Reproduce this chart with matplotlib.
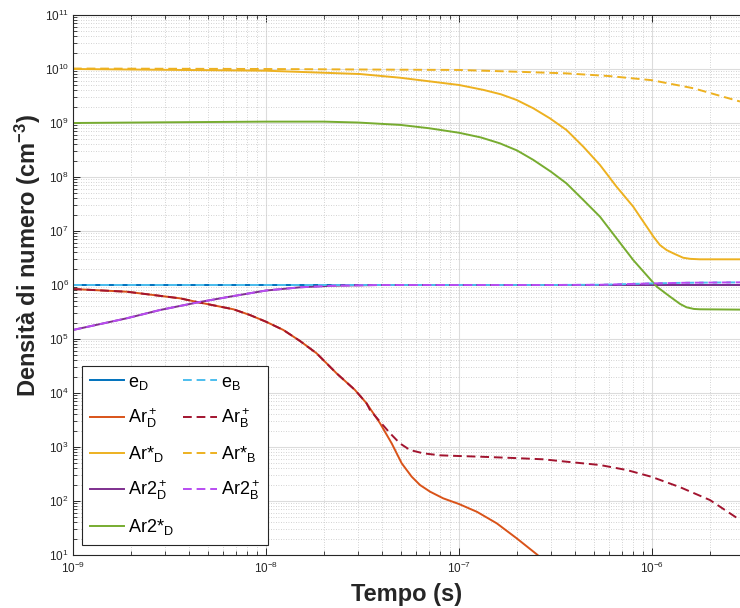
import matplotlib

matplotlib.use("Agg")
import matplotlib.pyplot as plt
from matplotlib.ticker import LogLocator, NullFormatter

# Time axis (s) and densities (cm^-3)
T_START = 1e-9
T_END = 2.86e-6

# e (drift / boltzmann)
e_D_t = [1e-9, 2.86e-6]
e_D_n = [1e6, 1e6]
e_B_t = [1e-9, 3e-7, 5.4e-7, 1e-6, 1.5e-6, 2.86e-6]
e_B_n = [1e6, 1e6, 1.01e6, 1.07e6, 1.1e6, 1.12e6]

# Ar+
ArP_D_t = [1e-9, 1.9e-9, 3.58e-9, 4.46e-9, 6.78e-9, 8.26e-9, 1.0e-8, 1.23e-8,
           1.5e-8, 1.83e-8, 2.32e-8, 2.89e-8, 3.32e-8, 3.9e-8, 4.48e-8, 5.05e-8,
           5.69e-8, 6.28e-8, 7.08e-8, 8.29e-8, 1.0e-7, 1.24e-7, 1.57e-7,
           1.99e-7, 2.53e-7, 2.96e-7]
ArP_D_n = [8.43e5, 7.51e5, 5.67e5, 4.79e5, 3.55e5, 2.78e5, 2.09e5, 1.47e5,
           9.2e4, 5.43e4, 2.32e4, 1.14e4, 6.45e3, 2.75e3, 1.17e3, 499,
           282, 198, 149, 112, 88, 63, 38.6,
           20.4, 10.3, 6.3]
ArP_B_t = [1e-9, 1.9e-9, 3.58e-9, 4.46e-9, 6.78e-9, 8.26e-9, 1.0e-8, 1.23e-8,
           1.5e-8, 1.83e-8, 2.32e-8, 2.89e-8, 3.32e-8, 3.46e-8, 3.9e-8, 4.4e-8,
           4.94e-8, 5.57e-8, 6.53e-8, 7.97e-8, 1.0e-7, 1.29e-7, 1.91e-7,
           2.73e-7, 3.61e-7, 5.38e-7, 7.4e-7, 9.9e-7, 1.4e-6, 2.0e-6, 2.86e-6]
ArP_B_n = [8.43e5, 7.51e5, 5.67e5, 4.79e5, 3.55e5, 2.78e5, 2.09e5, 1.47e5,
           9.2e4, 5.43e4, 2.32e4, 1.14e4, 6.45e3, 4.84e3, 2.94e3, 1.79e3,
           1.17e3, 880, 764, 701, 681, 661, 626,
           592, 534, 464, 375, 282, 180, 104, 44.5]

# Ar*
ArS_D_t = [1e-9, 1e-8, 3.07e-8, 4.94e-8, 1e-7, 1.34e-7, 1.65e-7, 1.99e-7,
           2.43e-7, 2.96e-7, 3.61e-7, 4.41e-7, 5.38e-7, 6.56e-7, 8.0e-7,
           8.67e-7, 1.02e-6, 1.1e-6, 1.19e-6, 1.29e-6, 1.45e-6, 1.58e-6,
           1.77e-6, 2.86e-6]
ArS_D_n = [1e10, 9.3e9, 8.07e9, 6.9e9, 5.06e9, 4.1e9, 3.4e9, 2.67e9,
           1.87e9, 1.22e9, 7.4e8, 3.64e8, 1.67e8, 6.6e7, 2.82e7,
           1.84e7, 7.8e6, 5.5e6, 4.45e6, 3.86e6, 3.2e6, 3.05e6,
           2.99e6, 2.99e6]
ArS_B_t = [1e-9, 1e-8, 5e-8, 1e-7, 2e-7, 3.6e-7, 6e-7, 1e-6, 1.64e-6, 2.86e-6]
ArS_B_n = [1.02e10, 1.0e10, 9.7e9, 9.6e9, 8.9e9, 8.3e9, 7.4e9, 6.2e9, 4.4e9, 2.5e9]

# Ar2+
Ar2P_D_t = [1e-9, 1.9e-9, 2.82e-9, 4.46e-9, 6.5e-9, 1e-8, 1.5e-8, 2.22e-8,
            3.9e-8, 2.86e-6]
Ar2P_D_n = [1.47e5, 2.42e5, 3.44e5, 4.79e5, 6.08e5, 7.9e5, 9.06e5, 9.7e5,
            1e6, 1e6]
Ar2P_B_t = [1e-9, 1.9e-9, 2.82e-9, 4.46e-9, 6.5e-9, 1e-8, 1.5e-8, 2.22e-8,
            3.9e-8, 3e-7, 5.4e-7, 1e-6, 1.5e-6, 2.86e-6]
Ar2P_B_n = [1.47e5, 2.42e5, 3.44e5, 4.79e5, 6.08e5, 7.9e5, 9.06e5, 9.7e5,
            1e6, 1e6, 1.01e6, 1.07e6, 1.1e6, 1.12e6]

# Ar2*
Ar2S_D_t = [1e-9, 3e-9, 1e-8, 2e-8, 3e-8, 5e-8, 7e-8, 1e-7, 1.3e-7, 1.63e-7,
            2e-7, 2.43e-7, 3e-7, 3.61e-7, 4.41e-7, 5.38e-7, 6.56e-7, 8.0e-7,
            1.06e-6, 1.24e-6, 1.4e-6, 1.51e-6, 1.65e-6, 1.77e-6, 2.86e-6]
Ar2S_D_n = [1.0e9, 1.03e9, 1.06e9, 1.06e9, 1.02e9, 9.2e8, 8.0e8, 6.6e8, 5.4e8,
            4.2e8, 3.1e8, 2.07e8, 1.25e8, 7.6e7, 3.75e7, 1.84e7, 7.3e6, 2.9e6,
            9.3e5, 6.1e5, 4.45e5, 3.87e5, 3.6e5, 3.55e5, 3.5e5]

SOLID = [
    (e_D_t, e_D_n, "#0072BD", r"e$_D$"),
    (ArP_D_t, ArP_D_n, "#D95319", r"Ar$^+_D$"),
    (ArS_D_t, ArS_D_n, "#EDB120", r"Ar*$_D$"),
    (Ar2P_D_t, Ar2P_D_n, "#7E2F8E", r"Ar2$^+_D$"),
    (Ar2S_D_t, Ar2S_D_n, "#77AC30", r"Ar2*$_D$"),
]
DASHED = [
    (e_B_t, e_B_n, "#4DBEEE", r"e$_B$"),
    (ArP_B_t, ArP_B_n, "#A2142F", r"Ar$^+_B$"),
    (ArS_B_t, ArS_B_n, "#EDB120", r"Ar*$_B$"),
    (Ar2P_B_t, Ar2P_B_n, "#B84CF2", r"Ar2$^+_B$"),
]

plt.rcParams["font.family"] = ["Liberation Sans", "DejaVu Sans"]
plt.rcParams["mathtext.fontset"] = "custom"
plt.rcParams["mathtext.rm"] = "Liberation Sans"
plt.rcParams["mathtext.it"] = "Liberation Sans:italic"
plt.rcParams["mathtext.bf"] = "Liberation Sans:bold"
plt.rcParams["mathtext.default"] = "regular"

fig = plt.figure(figsize=(7.4, 6.08), dpi=100)
ax = fig.add_axes([73 / 740, 53 / 608, 667 / 740, 540 / 608])

for t, n, c, lab in SOLID:
    ax.plot(t, n, color=c, lw=1.4, label=lab)
for t, n, c, lab in DASHED:
    ax.plot(t, n, color=c, lw=1.4, ls=(0, (4.5, 2.5)), label=lab)

ax.set_xscale("log")
ax.set_yscale("log")
ax.set_xlim(T_START, T_END)
ax.set_ylim(1e1, 1e11)

ax.xaxis.set_major_locator(LogLocator(base=10, numticks=20))
ax.yaxis.set_major_locator(LogLocator(base=10, numticks=20))
ax.xaxis.set_minor_locator(LogLocator(base=10, subs=range(2, 10), numticks=20))
ax.yaxis.set_minor_locator(LogLocator(base=10, subs=range(2, 10), numticks=20))
ax.xaxis.set_minor_formatter(NullFormatter())
ax.yaxis.set_minor_formatter(NullFormatter())

ax.grid(True, which="major", color="#dcdcdc", lw=0.8, ls="-")
ax.grid(True, which="minor", color="#c4c4c4", lw=0.6, ls=(0, (1, 2)))
ax.set_axisbelow(True)

ax.tick_params(which="both", direction="in", top=True, right=False,
               colors="#262626", labelsize=8.5)
ax.tick_params(axis="x", which="major", pad=4)
ax.tick_params(axis="y", which="major", pad=3)
ax.tick_params(which="major", length=5, width=0.7)
ax.tick_params(which="minor", length=3, width=0.6)
for side in ["left", "bottom", "top"]:
    ax.spines[side].set_color("#262626")
    ax.spines[side].set_linewidth(0.8)
ax.spines["right"].set_visible(False)

ax.set_xlabel("Tempo (s)", fontsize=17, fontweight="bold", color="#262626",
              labelpad=5)
ax.set_ylabel(r"Densità di numero (cm$^{-3}$)", fontsize=17,
              fontweight="bold", color="#262626")
ax.yaxis.set_label_coords(-0.045, 0.555)

leg = ax.legend(
    ncol=2,
    loc="lower left",
    bbox_to_anchor=(0.0135, 0.0185),
    borderaxespad=0,
    fontsize=13,
    labelspacing=0.8,
    handlelength=1.9,
    handletextpad=0.2,
    columnspacing=0.5,
    borderpad=0.45,
    fancybox=False,
    framealpha=1,
    edgecolor="#262626",
)
leg.get_frame().set_linewidth(0.8)

fig.savefig("out.png", dpi=100)
